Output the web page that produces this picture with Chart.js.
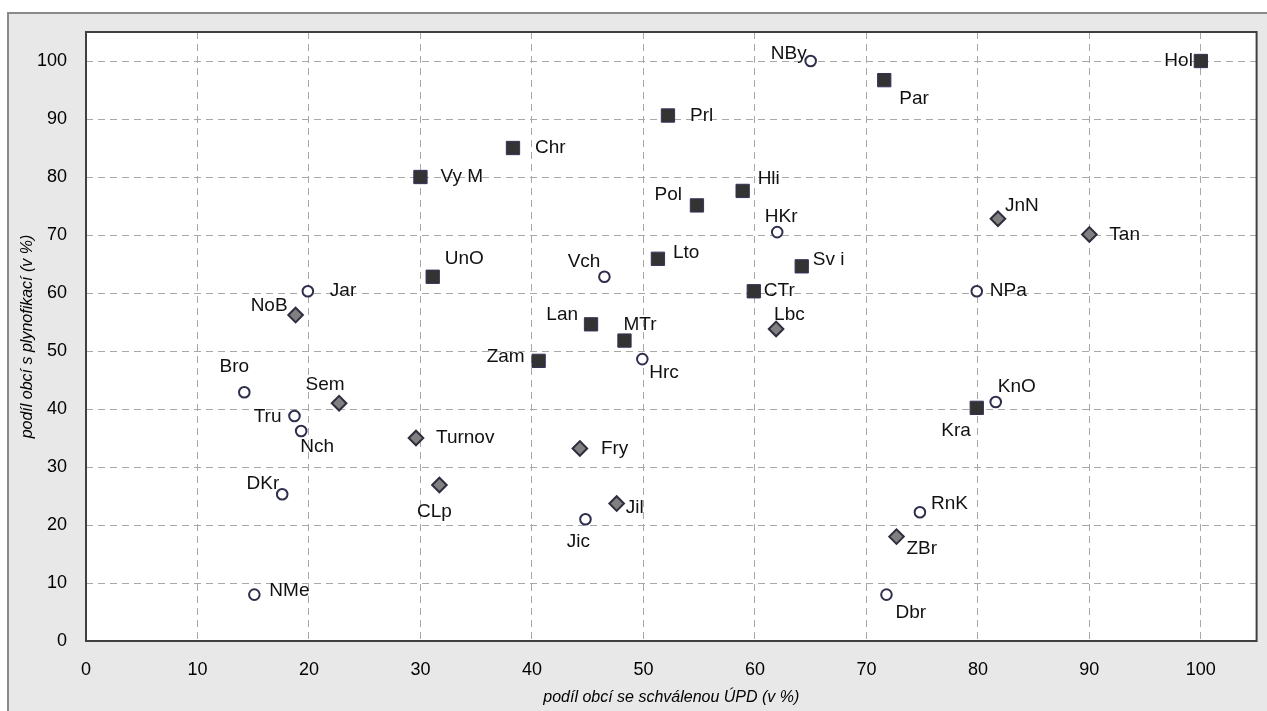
<!DOCTYPE html>
<html>
<head>
<meta charset="utf-8">
<script src="https://cdn.jsdelivr.net/npm/chart.js@4/dist/chart.umd.min.js"></script>
<style>
  html, body { margin: 0; padding: 0; background: #ffffff; }
  #wrap { position: relative; width: 1267px; height: 711px; }
</style>
</head>
<body>
<div id="wrap"><canvas id="c" width="1267" height="711"></canvas></div>
<script>
// ---- data ----
const squareNames = ['Vy M','Chr','Prl','Pol','Hli','Par','Hol','UnO','Lto','Sv i','CTr','Lan','MTr','Zam','Kra'];
const squareX = [30, 38.3, 52.2, 54.8, 58.9, 71.6, 100, 31.1, 51.3, 64.2, 59.9, 45.3, 48.3, 40.6, 79.9];
const squareY = [80, 85, 90.6, 75.1, 77.6, 96.7, 100, 62.8, 65.9, 64.6, 60.3, 54.6, 51.8, 48.3, 40.2];

const circleNames = ['NBy','HKr','Vch','Hrc','Jar','Bro','Tru','Nch','NPa','KnO','DKr','NMe','Jic','RnK','Dbr'];
const circleX = [65, 62, 46.5, 49.9, 19.9, 14.2, 18.7, 19.3, 79.9, 81.6, 17.6, 15.1, 44.8, 74.8, 71.8];
const circleY = [100, 70.5, 62.8, 48.6, 60.3, 42.9, 38.8, 36.2, 60.3, 41.2, 25.3, 8, 21, 22.2, 8];

const diamondNames = ['JnN','Tan','NoB','Sem','Turnov','Fry','Lbc','CLp','Jil','ZBr'];
const diamondX = [81.8, 90, 18.8, 22.7, 29.6, 44.3, 61.9, 31.7, 47.6, 72.7];
const diamondY = [72.8, 70.1, 56.2, 41, 35, 33.2, 53.8, 26.9, 23.7, 18];

const xTicks = [0,10,20,30,40,50,60,70,80,90,100];
const yTicks = [0,10,20,30,40,50,60,70,80,90,100];
const xTitle = 'podíl obcí se schválenou ÚPD (v %)';
const yTitle = 'podíl obcí s plynofikací (v %)';

// ---- label placement (pixel offsets from the point, alignment) ----
const squareLabelPos = [[20,0,'left'],[22,0,'left'],[22,0,'left'],[-15,-11,'right'],[15,-12,'left'],[15,19,'left'],[-8,0,'right'],[12,-18,'left'],[15,-6,'left'],[11,-7,'left'],[10,0,'left'],[-13,-10,'right'],[-1,-16,'left'],[-14,-4,'right'],[-6,23,'right']];
const circleLabelPos = [[-4,-7,'right'],[4,-15,'center'],[-4,-15,'right'],[7,14,'left'],[22,0,'left'],[-10,-25,'center'],[-13,1,'right'],[-1,16,'left'],[13,0,'left'],[2,-15,'left'],[-3,-10,'right'],[15,-4,'left'],[-7,23,'center'],[11,-8,'left'],[9,18,'left']];
const diamondLabelPos = [[7,-13,'left'],[20,0,'left'],[-8,-9,'right'],[-14,-18,'center'],[20,0,'left'],[21,0,'left'],[-2,-14,'left'],[-5,27,'center'],[9,4,'left'],[10,12,'left']];

const FONT = "'Liberation Sans', Arial, sans-serif";

function toPoints(xs, ys) { return xs.map((x, i) => ({x: x, y: ys[i]})); }

const bgPlugin = {
  id: 'bg',
  beforeDraw(chart) {
    const ctx = chart.ctx, a = chart.chartArea;
    ctx.save();
    ctx.fillStyle = '#ffffff';
    ctx.fillRect(0, 0, chart.width, chart.height);
    ctx.fillStyle = '#e8e8e8';
    ctx.fillRect(8, 13, chart.width - 8, chart.height - 13);
    ctx.strokeStyle = '#8a8a8a';
    ctx.lineWidth = 2;
    ctx.beginPath();
    ctx.moveTo(8, chart.height);
    ctx.lineTo(8, 13);
    ctx.lineTo(chart.width, 13);
    ctx.stroke();
    ctx.fillStyle = '#ffffff';
    ctx.fillRect(a.left, a.top, a.right - a.left, a.bottom - a.top);
    ctx.restore();
  },
  beforeDatasetsDraw(chart) {
    const ctx = chart.ctx, a = chart.chartArea;
    ctx.save();
    ctx.strokeStyle = '#404040';
    ctx.lineWidth = 2;
    ctx.strokeRect(a.left, a.top, a.right - a.left, a.bottom - a.top);
    ctx.restore();
  }
};

const labelPlugin = {
  id: 'pointLabels',
  afterDatasetsDraw(chart) {
    const ctx = chart.ctx;
    ctx.save();
    ctx.font = '19px ' + FONT;
    ctx.fillStyle = '#111111';
    ctx.textBaseline = 'middle';
    chart.data.datasets.forEach((ds, di) => {
      const meta = chart.getDatasetMeta(di);
      meta.data.forEach((el, i) => {
        const p = ds.labelPos[i];
        ctx.textAlign = p[2];
        ctx.fillText(ds.names[i], el.x + p[0], el.y + p[1]);
      });
    });
    ctx.restore();
  }
};

new Chart(document.getElementById('c'), {
  type: 'scatter',
  data: {
    datasets: [
      {
        data: toPoints(squareX, squareY), names: squareNames, labelPos: squareLabelPos,
        pointStyle: 'rect', pointRadius: 9.4, pointHoverRadius: 9.4,
        backgroundColor: '#333333', borderColor: '#33335a', borderWidth: 1
      },
      {
        data: toPoints(circleX, circleY), names: circleNames, labelPos: circleLabelPos,
        pointStyle: 'circle', pointRadius: 5.3, pointHoverRadius: 5.3,
        backgroundColor: '#ffffff', borderColor: '#2e2e4d', borderWidth: 2
      },
      {
        data: toPoints(diamondX, diamondY), names: diamondNames, labelPos: diamondLabelPos,
        pointStyle: 'rectRot', pointRadius: 7.3, pointHoverRadius: 7.3,
        backgroundColor: '#808080', borderColor: '#2e2e3e', borderWidth: 2
      }
    ]
  },
  options: {
    responsive: false,
    animation: false,
    events: [],
    layout: { padding: { left: 0, top: 32, right: 8, bottom: 0 } },
    plugins: { legend: { display: false }, tooltip: { enabled: false } },
    scales: {
      x: {
        type: 'linear', min: 0, max: 105,
        afterFit(s) { s.height = 70; },
        afterBuildTicks(s) { s.ticks = xTicks.map(v => ({value: v})); },
        ticks: { stepSize: 10, includeBounds: false, padding: 18, color: '#000', font: { family: FONT, size: 18 } },
        grid: { color: '#a8a8a8', lineWidth: 1, drawTicks: false },
        border: { display: false, dash: [7, 5] },
        title: { display: true, text: xTitle, color: '#000', padding: { top: 0, bottom: 4 }, font: { family: FONT, size: 16, style: 'italic' } }
      },
      y: {
        type: 'linear', min: 0, max: 105,
        afterFit(s) { s.width = 86; },
        afterBuildTicks(s) { s.ticks = yTicks.map(v => ({value: v})); },
        ticks: { stepSize: 10, includeBounds: false, padding: 19, color: '#000', font: { family: FONT, size: 18 } },
        grid: { color: '#a8a8a8', lineWidth: 1, drawTicks: false },
        border: { display: false, dash: [7, 5] },
        title: { display: true, text: yTitle, color: '#000', padding: { top: 18, bottom: 0 }, font: { family: FONT, size: 16, style: 'italic' } }
      }
    }
  },
  plugins: [bgPlugin, labelPlugin]
});
</script>
</body>
</html>
